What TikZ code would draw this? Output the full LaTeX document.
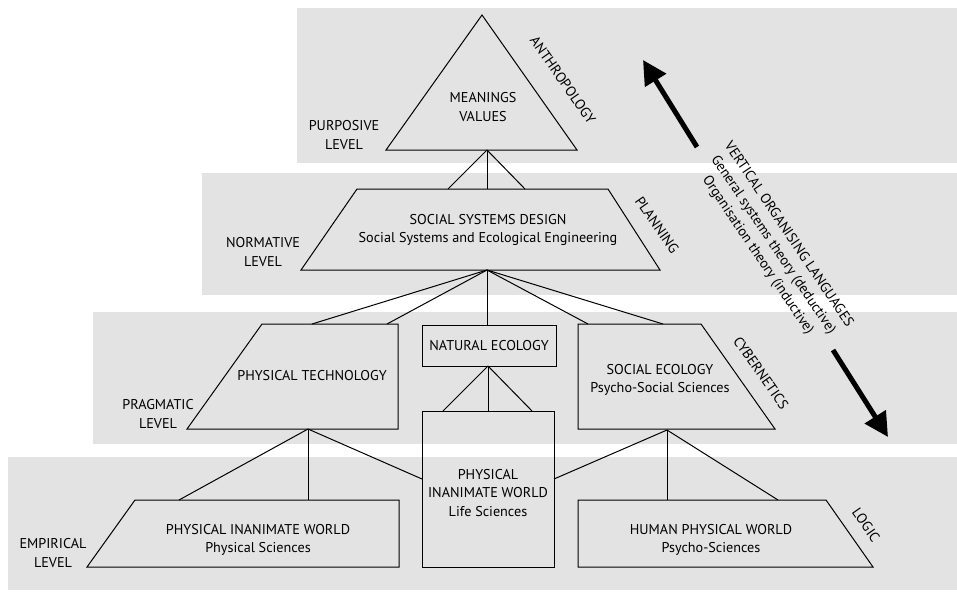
\documentclass[tikz,border=0pt]{standalone}
\usepackage{fontspec}
\setmainfont{PT Sans}
\usetikzlibrary{arrows.meta}
\tikzset{
  band/.style={fill=black!11},
  frame/.style={draw,line width=1pt},
  link/.style={line width=1pt},
  lbl/.style={align=center,inner sep=0pt,font=\fontsize{14.2}{18.5}\selectfont},
  slant/.style={lbl,rotate=-55},
  bigarrow/.style={line width=5pt,-{Triangle[length=24pt,width=24pt]}}
}
\begin{document}
\begin{tikzpicture}[x=1pt,y=-1pt]
 \useasboundingbox (0,0) rectangle (957,592);
 \fill[band] (297,8) rectangle (957,163);
 \fill[band] (202,173) rectangle (957,295);
 \fill[band] (93,312) rectangle (957,444);
 \fill[band] (8,457) rectangle (957,590);

 \draw[frame] (482,15) -- (577,150) -- (386,150) -- cycle;
 \draw[frame] (357,189) -- (608,189) -- (660,270) -- (301,270) -- cycle;
 \draw[frame] (262,324) -- (398,324) -- (398,429) -- (187,429) -- cycle;
 \draw[frame] (422,325) rectangle (556,366);
 \draw[frame] (578,324) -- (701,324) -- (775,429) -- (578,429) -- cycle;
 \draw[frame] (422,411) rectangle (554,567);
 \draw[frame] (135,500) -- (399,500) -- (399,567) -- (87,567) -- cycle;
 \draw[frame] (578,500) -- (826,500) -- (873,567) -- (578,567) -- cycle;

 \coordinate (valuesB) at (487,150);
 \coordinate (designL) at (448,189);
 \coordinate (designM) at (487,189);
 \coordinate (designR) at (525,189);
 \coordinate (designB) at (487,270);
 \coordinate (techL) at (312,324);
 \coordinate (techR) at (387,324);
 \coordinate (techB) at (308,429);
 \coordinate (natT) at (487,325);
 \coordinate (natB) at (488,366);
 \coordinate (socL) at (588,324);
 \coordinate (socR) at (663,324);
 \coordinate (socB) at (667,430);
 \coordinate (lifeL) at (443,411);
 \coordinate (lifeM) at (488,411);
 \coordinate (lifeR) at (532,411);
 \coordinate (lifeW) at (422,479);
 \coordinate (lifeE) at (554,479);
 \coordinate (inanL) at (179,500);
 \coordinate (inanR) at (308,500);
 \coordinate (humL) at (667,500);
 \coordinate (humR) at (778,500);

 \draw[link] (valuesB) -- (designL);
 \draw[link] (valuesB) -- (designM);
 \draw[link] (valuesB) -- (designR);
 \draw[link] (designB) -- (techL);
 \draw[link] (designB) -- (techR);
 \draw[link] (designB) -- (natT);
 \draw[link] (designB) -- (socL);
 \draw[link] (designB) -- (socR);
 \draw[link] (natB) -- (lifeL);
 \draw[link] (natB) -- (lifeM);
 \draw[link] (natB) -- (lifeR);
 \draw[link] (techB) -- (inanL);
 \draw[link] (techB) -- (inanR);
 \draw[link] (techB) -- (lifeW);
 \draw[link] (socB) -- (lifeE);
 \draw[link] (socB) -- (humL);
 \draw[link] (socB) -- (humR);

 \node[lbl] (values) at (483,107) {MEANINGS\\VALUES};
 \node[lbl] (purposive) at (344,135) {PURPOSIVE\\LEVEL};
 \node[slant] (anthro) at (563,80) {ANTHROPOLOGY};
 \node[lbl] (design) at (488,230) {SOCIAL SYSTEMS DESIGN\\Social Systems and Ecological Engineering};
 \node[lbl] (normative) at (263,252) {NORMATIVE\\LEVEL};
 \node[slant] (planning) at (657,225) {PLANNING};
 \node[lbl] (tech) at (312,376) {PHYSICAL TECHNOLOGY};
 \node[lbl] (natural) at (489,346) {NATURAL ECOLOGY};
 \node[lbl] (social) at (660,380) {SOCIAL ECOLOGY\\Psycho-Social Sciences};
 \node[lbl] (pragmatic) at (158,414) {PRAGMATIC\\LEVEL};
 \node[slant] (cyber) at (761,373) {CYBERNETICS};
 \node[lbl] (life) at (488,493) {PHYSICAL\\INANIMATE WORLD\\Life Sciences};
 \node[lbl] (inanimate) at (258,540) {PHYSICAL INANIMATE WORLD\\Physical Sciences};
 \node[lbl] (human) at (711,540) {HUMAN PHYSICAL WORLD\\Psycho-Sciences};
 \node[lbl] (empirical) at (53,553) {EMPIRICAL\\LEVEL};
 \node[slant] (logic) at (866,525) {LOGIC};
 \node[lbl,rotate=-56] (languages) at (773,245) {VERTICAL ORGANISING LANGUAGES\\General systems theory (deductive)\\Organisation theory (inductive)};

 \coordinate (upTail) at (697,147);
 \coordinate (upTip) at (643,60);
 \coordinate (downTail) at (833,350);
 \coordinate (downTip) at (888,437);
 \draw[bigarrow] (upTail) -- (upTip);
 \draw[bigarrow] (downTail) -- (downTip);
\end{tikzpicture}
\end{document}
